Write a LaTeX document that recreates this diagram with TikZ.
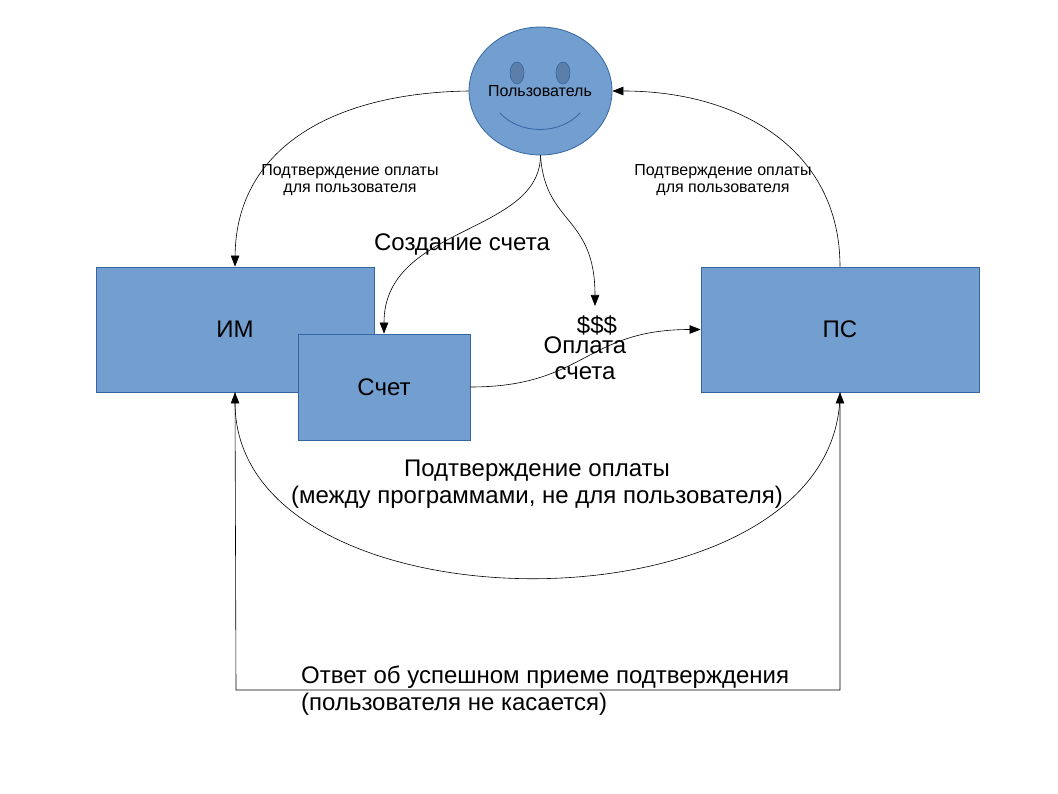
\documentclass[tikz,border=0pt]{standalone}
\usepackage{fontspec}
\setmainfont{Liberation Sans}
\usetikzlibrary{arrows.meta,shapes.geometric}
\definecolor{boxfill}{HTML}{729FCF}
\definecolor{boxline}{HTML}{3465A4}
\definecolor{eyefill}{HTML}{5B7FA8}
\begin{document}
\begin{tikzpicture}[x=1pt,y=-1pt,
  box/.style={rectangle,draw=boxline,fill=boxfill,line width=0.8pt,inner sep=0pt,
    font=\fontsize{24}{26.5}\selectfont},
  conn/.style={draw=black,line width=0.6pt,-{Triangle[length=11pt,width=8.5pt]}},
  small/.style={align=center,inner sep=0pt,font=\fontsize{16}{17.5}\selectfont},
  big/.style={align=center,inner sep=0pt,font=\fontsize{24}{26.5}\selectfont}]
\useasboundingbox (0,0) rectangle (1058,794);
% nodes
\node[box,minimum width=278pt,minimum height=125pt] (IM) at (235,329.5) {ИМ};
\node[box,minimum width=172pt,minimum height=106pt] (SC) at (384,387) {Счет};
\node[box,minimum width=278pt,minimum height=125pt] (PS) at (840,329.5) {ПС};
\node[ellipse,draw=boxline,fill=boxfill,line width=0.8pt,minimum width=143pt,minimum height=128pt,inner sep=0pt] (U) at (540.5,91) {};
% face
\draw[boxline,fill=eyefill,line width=0.6pt] (517,73) ellipse [x radius=7,y radius=11];
\draw[boxline,fill=eyefill,line width=0.6pt] (563,73) ellipse [x radius=7,y radius=11];
\draw[boxline,line width=0.8pt] (500,113) .. controls (520,135) and (560,135) .. (580,113);
\node[small] (Ut) at (540,91) {Пользователь};
% coordinates
\coordinate (money) at (595,306);
\coordinate (ansL) at (236,690);
\coordinate (ansR) at (840,690);
% connectors
\draw[conn] (U.west) .. controls (330,93) and (236,150) .. (IM.north);
\draw[conn] (PS.north) .. controls (840,150) and (740,91) .. (U.east);
\draw[conn] (U.south) .. controls (540,235) and (384,225) .. (SC.north);
\draw[conn] (U.south) .. controls (545,225) and (595,215) .. (money);
\draw[conn] (SC.east) .. controls (585,387) and (585,329.5) .. (PS.west);
\draw[conn] (PS.south) .. controls (840,639) and (236,639) .. (IM.south);
\draw[conn] (IM.south) -- (ansL) -- (ansR) -- (PS.south);
% labels
\node[small] (l1) at (350,180) {Подтверждение оплаты\\для пользователя};
\node[small] (l2) at (723,180) {Подтверждение оплаты\\для пользователя};
\node[big] (l3) at (462,245) {Создание счета};
\node[big] (l4) at (597,325) {\$\$\$};
\node[big] (l5) at (585,358) {Оплата\\счета};
\node[big] (l6) at (537,484) {Подтверждение оплаты\\(между программами, не для пользователя)};
\node[big,align=left,anchor=west] (l7) at (301,690.5) {Ответ об успешном приеме подтверждения\\(пользователя не касается)};
\end{tikzpicture}
\end{document}
